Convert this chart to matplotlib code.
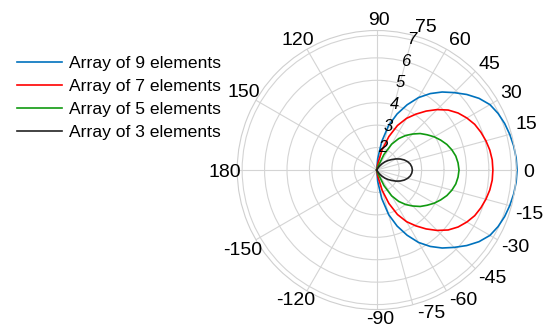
import numpy as np
import matplotlib.pyplot as plt

plt.rcParams['font.family'] = ['Liberation Sans', 'DejaVu Sans']

# angles in degrees (-90 .. 90, step 5)
angles = [-90, -85, -80, -75, -70, -65, -60, -55, -50, -45, -40, -35, -30, -25, -20, -15, -10, -5,
          0, 5, 10, 15, 20, 25, 30, 35, 40, 45, 50, 55, 60, 65, 70, 75, 80, 85, 90]

# pattern magnitude (radial axis starts at 1 in the centre)
arr9 = [1.0, 1.51, 2.29, 3.06, 3.66, 4.21, 4.73, 5.16, 5.54, 5.88, 6.24, 6.57, 6.83, 6.97, 7.07, 7.14, 7.2, 7.24,
        7.26, 7.24, 7.2, 7.14, 7.07, 6.97, 6.83, 6.57, 6.24, 5.88, 5.54, 5.16, 4.73, 4.21, 3.66, 3.06, 2.29, 1.51, 1.0]
arr7 = [1.0, 1.0, 1.3, 1.94, 2.59, 3.19, 3.66, 4.04, 4.43, 4.81, 5.16, 5.43, 5.64, 5.82, 5.94, 6.04, 6.12, 6.17,
        6.18, 6.17, 6.12, 6.04, 5.94, 5.82, 5.64, 5.43, 5.16, 4.81, 4.43, 4.04, 3.66, 3.19, 2.59, 1.94, 1.3, 1.0, 1.0]
arr5 = [1.0, 1.0, 1.0, 1.0, 1.17, 1.77, 2.33, 2.71, 3.01, 3.27, 3.53, 3.74, 3.96, 4.15, 4.33, 4.47, 4.58, 4.64,
        4.67, 4.64, 4.58, 4.47, 4.33, 4.15, 3.96, 3.74, 3.53, 3.27, 3.01, 2.71, 2.33, 1.77, 1.17, 1.0, 1.0, 1.0, 1.0]
arr3 = [1.0, 1.0, 1.0, 1.0, 1.0, 1.0, 1.07, 1.21, 1.36, 1.51, 1.66, 1.81, 1.99, 2.16, 2.31, 2.43, 2.52, 2.57,
        2.59, 2.57, 2.52, 2.43, 2.31, 2.16, 1.99, 1.81, 1.66, 1.51, 1.36, 1.21, 1.07, 1.0, 1.0, 1.0, 1.0, 1.0, 1.0]

labels = ["Array of 9 elements", "Array of 7 elements", "Array of 5 elements", "Array of 3 elements"]
colors = ["#0072BD", "#FF0000", "#109A10", "#222222"]

grid_deg = [0, 15, 30, 45, 60, 75, 90, 120, 150, 180, 210, 240, 270, 285, 300, 315, 330, 345]
grid_lbl = ["0", "15", "30", "45", "60", "75", "90", "120", "150", "180", "-150", "-120",
            "-90", "-75", "-60", "-45", "-30", "-15"]
# where each angle label sits (angle in degrees, radius in axis units)
lbl_deg = [0, 17.5, 30.3, 43.6, 57.7, 71.2, 89, 121, 149, 180, 210.2, 237.6,
           271.3, 291, 304, 317.5, 331.2, 344.3]
lbl_r = [7.78, 8.0, 7.96, 7.96, 7.93, 7.8, 7.76, 7.82, 7.89, 7.79, 7.93, 7.76,
         7.58, 7.78, 7.93, 8.0, 8.03, 8.06]
r_ticks = [2, 3, 4, 5, 6, 7]
r_max = 7.22

fig = plt.figure(figsize=(5.51, 3.27), dpi=100)
ax = fig.add_axes([0.4305, 0.0535, 0.5064, 0.8532], projection='polar')

theta = np.deg2rad(angles)
for r, lab, c in zip([arr9, arr7, arr5, arr3], labels, colors):
    ax.plot(theta, r, color=c, lw=1.2, label=lab, clip_on=False)

ax.set_ylim(1, r_max)
ax.set_rticks(r_ticks)
ax.set_yticklabels([])
ax.set_thetagrids(grid_deg, [''] * len(grid_deg))
ax.grid(color='#d4d4d4', lw=0.8)
ax.spines['polar'].set_color('#cfcfcf')
ax.spines['polar'].set_linewidth(0.8)

# angle labels just outside the plot
for d, rr, s in zip(lbl_deg, lbl_r, grid_lbl):
    ax.text(np.deg2rad(d), rr, s, fontsize=14, ha='center', va='center_baseline', clip_on=False)

# radial labels along the 75 degree spoke
for v in r_ticks:
    ax.text(np.deg2rad(75), v + 0.02, str(v), fontsize=12, style='italic',
            ha='center', va='center', clip_on=False)

fig.legend(loc='upper left', bbox_to_anchor=(0.030, 0.829), frameon=False, fontsize=12.6,
           handlelength=2.6, handletextpad=0.4, labelspacing=0.44, borderpad=0, borderaxespad=0)

fig.savefig("out.png", dpi=100)
